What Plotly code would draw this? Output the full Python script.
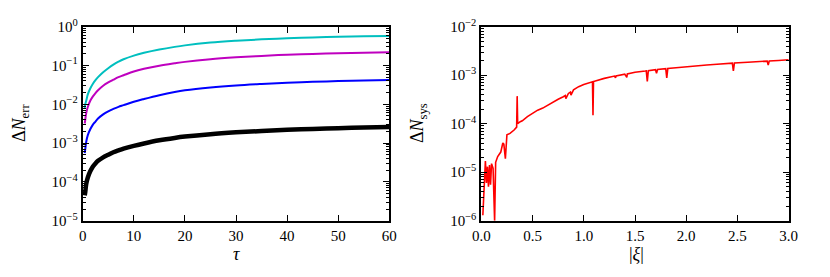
import plotly.graph_objects as go

# ---- left panel data: Delta N_err vs tau ----
tau = [0.4, 0.5, 0.7, 1, 1.5, 2, 2.5, 3, 4, 5, 6, 7, 8, 10, 12, 15, 18, 20, 25, 30, 35, 40, 45,
       50, 55, 60]
err_cyan = [0.008, 0.010, 0.0125, 0.018, 0.026, 0.034, 0.042, 0.050, 0.067, 0.085, 0.105, 0.125,
            0.145, 0.18, 0.212, 0.258, 0.302, 0.33, 0.39, 0.435, 0.472, 0.505, 0.53, 0.55, 0.565,
            0.578]
err_magenta = [0.0032, 0.0040, 0.006, 0.0085, 0.0125, 0.016, 0.0195, 0.023, 0.030, 0.0365, 0.043,
               0.050, 0.056, 0.070, 0.082, 0.099, 0.114, 0.124, 0.145, 0.162, 0.177, 0.190, 0.199,
               0.206, 0.214, 0.220]
err_blue = [0.00055, 0.0007, 0.0011, 0.0016, 0.0023, 0.0030, 0.0036, 0.0043, 0.0055, 0.0066, 0.0076,
            0.0086, 0.0095, 0.0116, 0.0137, 0.0172, 0.0208, 0.0230, 0.0272, 0.0307, 0.0335, 0.036,
            0.038, 0.0397, 0.041, 0.042]
err_black = [4.5e-5, 5.5e-5, 9e-5, 1.3e-4, 1.9e-4, 2.5e-4, 3.0e-4, 3.5e-4, 4.3e-4, 5.0e-4, 5.8e-4,
             6.5e-4, 7.2e-4, 8.5e-4, 9.8e-4, 1.18e-3, 1.36e-3, 1.47e-3, 1.70e-3, 1.89e-3, 2.05e-3,
             2.2e-3, 2.32e-3, 2.43e-3, 2.52e-3, 2.6e-3]

# ---- right panel data: Delta N_sys vs |xi| ----
xi = [0.015, 0.02, 0.025, 0.03, 0.04, 0.05, 0.06, 0.07, 0.08, 0.09, 0.10, 0.115, 0.13, 0.14, 0.16,
      0.19, 0.21, 0.22, 0.235, 0.25, 0.28, 0.32, 0.345, 0.35, 0.355, 0.38, 0.40, 0.45, 0.50, 0.55,
      0.60, 0.65, 0.70, 0.75, 0.80, 0.82, 0.825, 0.85, 0.87, 0.875, 0.90, 0.95, 1.00, 1.05, 1.085,
      1.09, 1.095, 1.20, 1.30, 1.31, 1.315, 1.40, 1.42, 1.425, 1.50, 1.60, 1.61, 1.62, 1.63, 1.70,
      1.71, 1.72, 1.80, 1.81, 1.82, 1.90, 2.00, 2.10, 2.20, 2.30, 2.40, 2.45, 2.46, 2.47, 2.60, 2.70,
      2.79, 2.80, 2.81, 2.90, 3.00]
n_sys = [1.3e-6, 2.3e-6, 6e-6, 9.5e-6, 1.7e-5, 6e-6, 1.3e-5, 5e-6, 1.4e-5, 5.5e-6, 1.5e-5, 1.2e-5,
         1.0e-6, 1.6e-5, 2.1e-5, 2.6e-5, 4e-5, 3.8e-5, 1.9e-5, 5.9e-5, 6.3e-5, 7.4e-5, 8.5e-5,
         3.7e-4, 1.0e-4, 1.1e-4, 1.15e-4, 1.4e-4, 1.65e-4, 1.9e-4, 2.1e-4, 2.45e-4, 2.8e-4, 3.2e-4,
         3.6e-4, 3.8e-4, 3.3e-4, 4.2e-4, 4.5e-4, 3.9e-4, 5.0e-4, 5.8e-4, 6.4e-4, 7.0e-4, 7.3e-4,
         1.5e-4, 7.4e-4, 8.6e-4, 9.6e-4, 8.8e-4, 9.7e-4, 1.05e-3, 9.0e-4, 1.06e-3, 1.15e-3, 1.22e-3,
         1.23e-3, 7.4e-4, 1.24e-3, 1.3e-3, 1.1e-3, 1.31e-3, 1.36e-3, 8.8e-4, 1.37e-3, 1.42e-3,
         1.5e-3, 1.56e-3, 1.62e-3, 1.68e-3, 1.75e-3, 1.77e-3, 1.22e-3, 1.78e-3, 1.85e-3, 1.90e-3,
         1.95e-3, 1.62e-3, 1.96e-3, 2.01e-3, 2.08e-3]

left_xticks = [0, 10, 20, 30, 40, 50, 60]
right_xticks = [0.0, 0.5, 1.0, 1.5, 2.0, 2.5, 3.0]
left_yexp = [-5, -4, -3, -2, -1, 0]
right_yexp = [-6, -5, -4, -3, -2]


def exp_label(e):
    s = str(e).replace("-", "\u2212")
    return f"10<sup>{s}</sup>"


FONT = "Liberation Serif"
fig = go.Figure()

for ys, col, w in [(err_cyan, "#00BFBF", 2), (err_magenta, "#BF00BF", 2),
                   (err_blue, "#0000FF", 2), (err_black, "#000000", 4.5)]:
    fig.add_trace(go.Scatter(x=tau, y=ys, mode="lines",
                             line=dict(color=col, width=w, shape="spline", smoothing=1.0),
                             xaxis="x", yaxis="y", showlegend=False))

fig.add_trace(go.Scatter(x=xi, y=n_sys, mode="lines", line=dict(color="#FF0000", width=1.6),
                         xaxis="x2", yaxis="y2", showlegend=False))

# page has an 8px body margin: figure drawn at (8,8)
OFF = 8
FW, FH = 814, 261


def px(p):
    return (p - OFF) / FW


def py(p):
    return 1 - (p - OFF) / FH


yd = [py(220.7), py(26.7)]

common_axis = dict(showline=True, linecolor="black", linewidth=2, mirror="ticks",
                   ticks="inside", ticklen=6, tickwidth=1, tickcolor="black",
                   showgrid=False, zeroline=False, automargin=False,
                   tickfont=dict(family=FONT, size=15, color="black"))

label_font = dict(family=FONT, size=18, color="black")

fig.update_layout(
    width=FW, height=FH, autosize=False,
    margin=dict(l=0, r=0, t=0, b=0, pad=0),
    paper_bgcolor="white", plot_bgcolor="white",
    xaxis=dict(domain=[px(82.7), px(389.3)], range=[0, 60], tickvals=left_xticks,
               ticktext=[str(v) for v in left_xticks], anchor="y", **common_axis),
    yaxis=dict(domain=yd, type="log", range=[-5, 0], tickvals=[10 ** e for e in left_yexp],
               ticktext=[exp_label(e) for e in left_yexp], anchor="x",
               minor=dict(ticks="inside", ticklen=3, tickcolor="black", dtick="D1", showgrid=False),
               **common_axis),
    xaxis2=dict(domain=[px(481.3), px(788.7)], range=[0, 3], tickvals=right_xticks,
                ticktext=[f"{v:.1f}" for v in right_xticks], anchor="y2", **common_axis),
    yaxis2=dict(domain=yd, type="log", range=[-6, -2], tickvals=[10 ** e for e in right_yexp],
                ticktext=[exp_label(e) for e in right_yexp], anchor="x2",
                minor=dict(ticks="inside", ticklen=3, tickcolor="black", dtick="D1", showgrid=False),
                **common_axis),
    annotations=[
        dict(text="\u0394<i>N</i><sub>err</sub>", x=px(21), y=py(123), xref="paper", yref="paper",
             xanchor="center", yanchor="middle", textangle=-90, showarrow=False, font=label_font),
        dict(text="<i>\u03c4</i>", x=px(236), y=py(254), xref="paper", yref="paper",
             xanchor="center", yanchor="middle", showarrow=False, font=label_font),
        dict(text="\u0394<i>N</i><sub>sys</sub>", x=px(419), y=py(123), xref="paper", yref="paper",
             xanchor="center", yanchor="middle", textangle=-90, showarrow=False, font=label_font),
        dict(text="|<i>\u03be</i>|", x=px(636), y=py(254), xref="paper", yref="paper",
             xanchor="center", yanchor="middle", showarrow=False, font=label_font),
    ],
)

fig.write_html("out.html")
